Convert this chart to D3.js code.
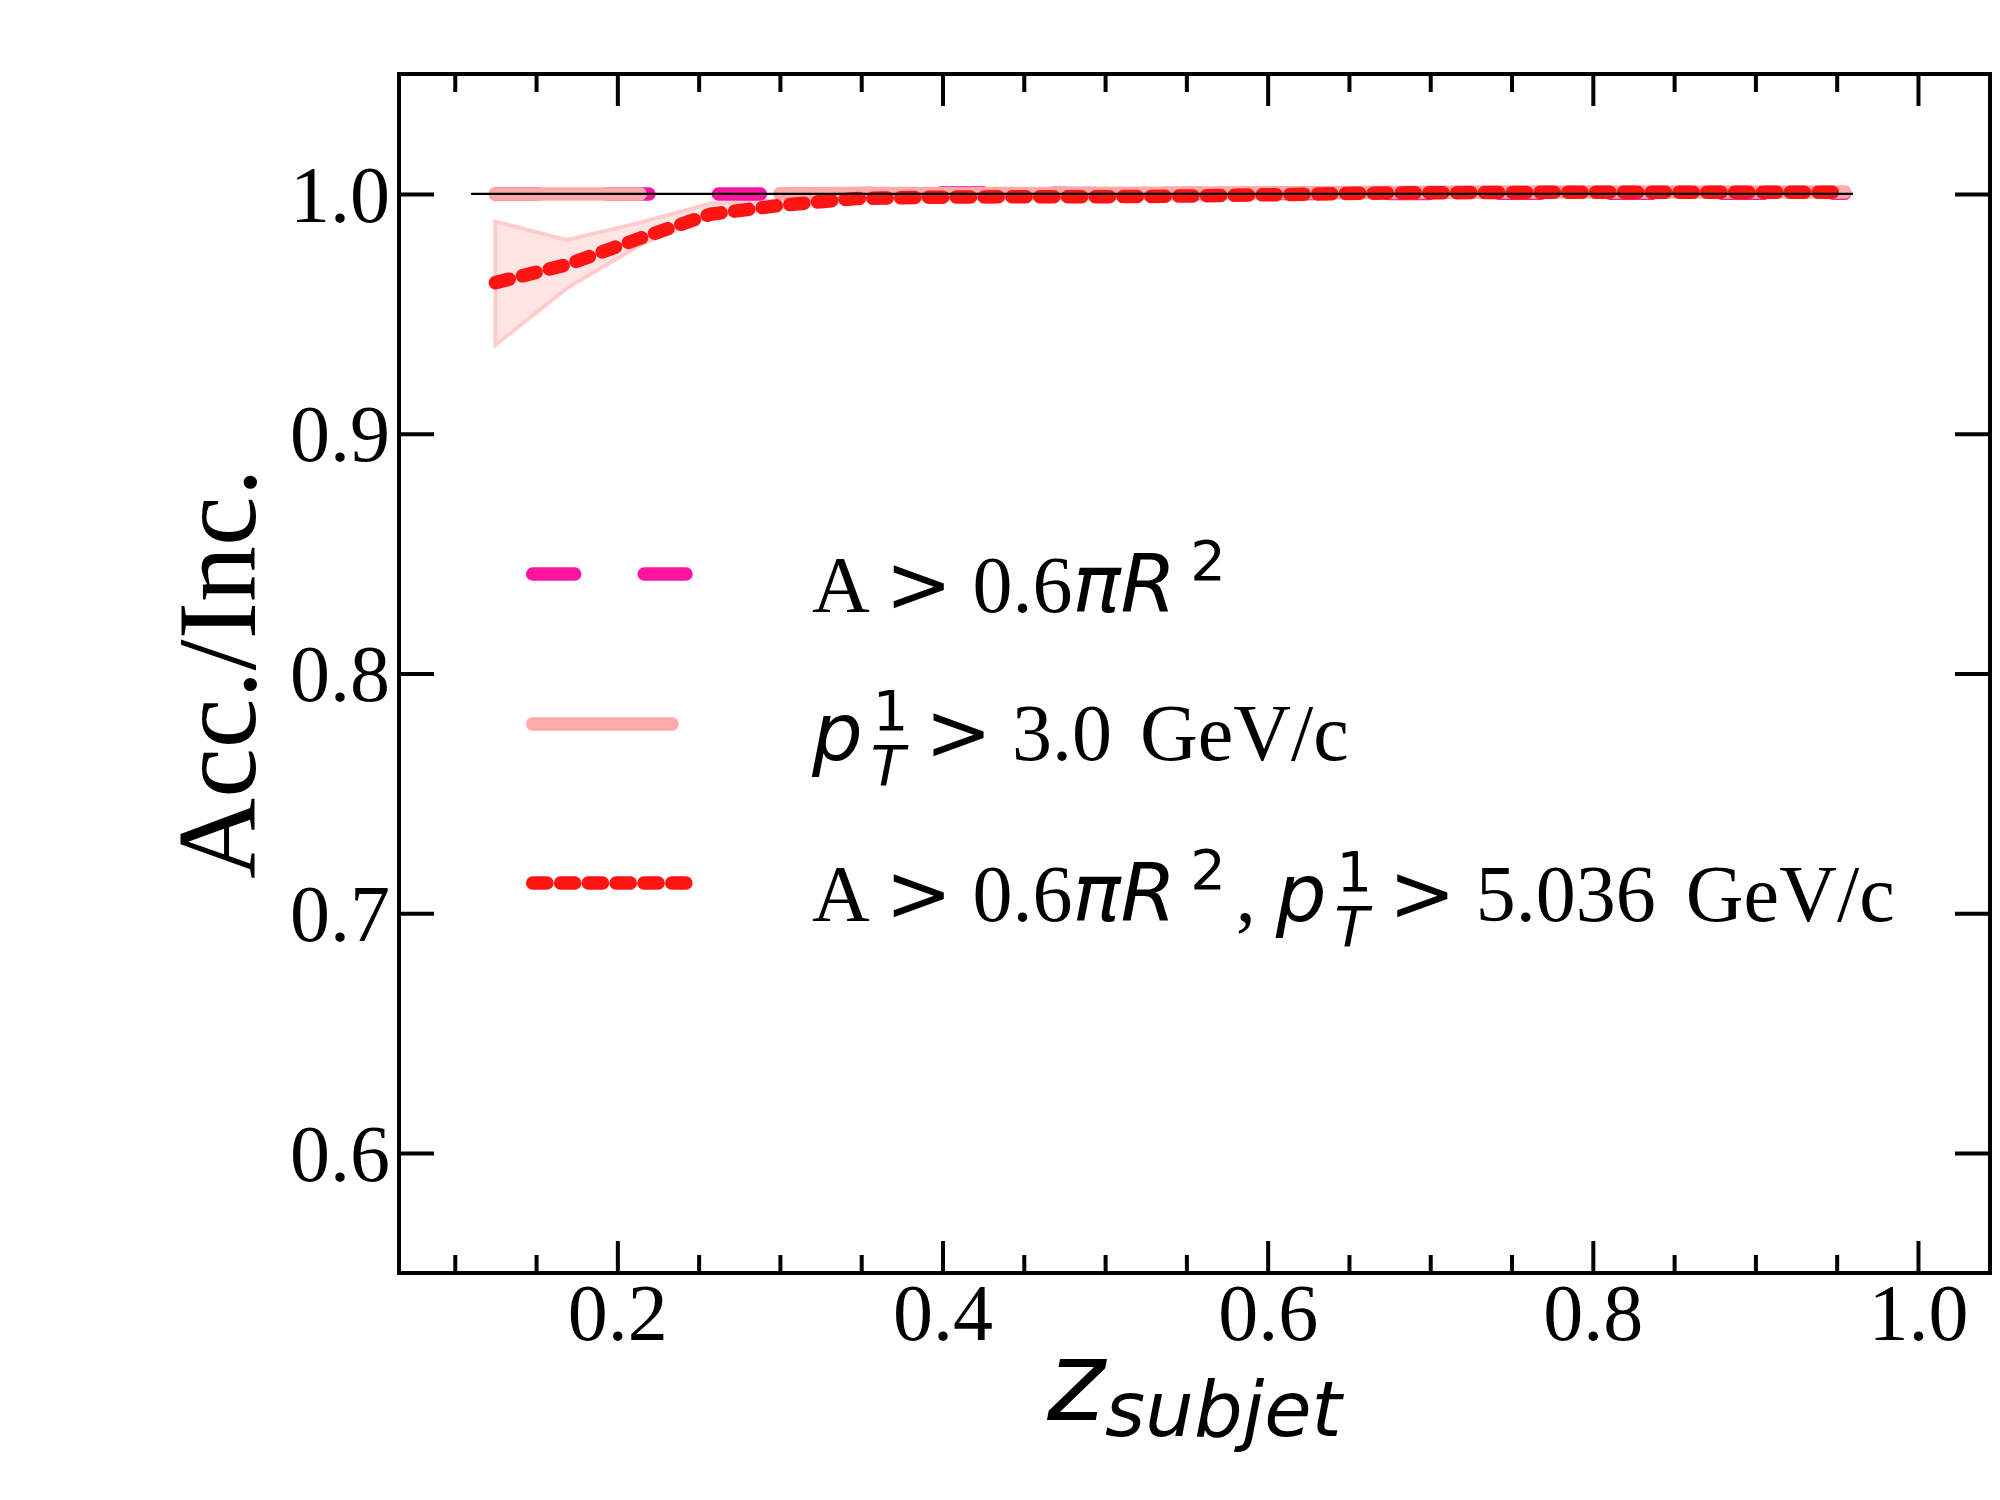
<!DOCTYPE html>
<html>
<head>
<meta charset="utf-8">
<script src="https://cdn.jsdelivr.net/npm/d3@7"></script>
<style>
  body { margin: 0; background: #fff; }
  .tick line { stroke: #000; stroke-width: 4; }
  .tick text { font-family: "Liberation Serif", "Times New Roman", serif; font-size: 80px; fill: #000; }
</style>
</head>
<body>
<script>
"use strict";

// z_subjet bin positions
var zVals = [0.125, 0.169, 0.214, 0.257, 0.30, 0.345, 0.39, 0.435, 0.48, 0.525,
             0.57, 0.615, 0.66, 0.705, 0.75, 0.795, 0.84, 0.885, 0.925, 0.955];

// A > 0.6 pi R^2
var areaCut = [1.0, 1.0, 1.0, 1.0, 1.0, 1.0001, 1.0005, 1.0005, 1.0002, 1.0002,
               1.0002, 1.0002, 1.0002, 1.0002, 1.0003, 1.0003, 1.0003, 1.0003, 1.0003, 1.0003];

// pT lead > 3.0 GeV/c  (null = empty bin)
var ptCut = [1.0, 1.0, 1.0, null, 1.0001, 1.0002, 1.0002, 1.0002, 1.0002, 1.0003,
             1.0004, 1.0005, 1.0006, 1.0007, 1.0008, 1.0008, 1.0008, 1.0008, 1.0008, 1.0008];

// both cuts
var bothCut = [0.963, 0.9705, 0.9815, 0.9915, 0.9952, 0.998, 0.9986, 0.9988, 0.9988, 0.9989,
               0.9993, 0.9998, 1.0003, 1.0005, 1.0006, 1.0007, 1.0007, 1.0007, 1.0007, 1.0007];
var bothLo = [0.937, 0.9607, 0.9787, 0.9905, 0.9942, 0.9973, 0.998, 0.9982, 0.9982, 0.9983,
              0.9988, 0.9993, 0.9998, 1.0, 1.0001, 1.0002, 1.0002, 1.0002, 1.0002, 1.0002];
var bothHi = [0.9884, 0.9808, 0.988, 0.996, 0.9972, 0.9987, 0.9992, 0.9994, 0.9994, 0.9995,
              0.9998, 1.0003, 1.0008, 1.001, 1.0011, 1.0012, 1.0012, 1.0012, 1.0012, 1.0012];

// reference line at unity
var refX = [0.11, 0.96];
var refY = [1.0, 1.0];

var xMajor = [0.2, 0.4, 0.6, 0.8, 1.0];
var xMinor = [0.1, 0.15, 0.25, 0.3, 0.35, 0.45, 0.5, 0.55, 0.65, 0.7, 0.75, 0.85, 0.9, 0.95];
var yMajor = [0.6, 0.7, 0.8, 0.9, 1.0];

var serif = "'Liberation Serif', 'Times New Roman', serif";
var sans = "'DejaVu Sans', sans-serif";

// legend rows, each a list of text pieces
var legendRows = [
  [{t: "A ", f: serif}, {t: ">", f: sans}, {t: " 0.6", f: serif}, {t: "\u03c0R", f: sans, it: 1},
   {t: "2", f: sans, s: 56, dx: 14, dy: -32}],
  [{t: "p", f: sans, it: 1}, {t: "1", f: sans, s: 56, dx: 10, dy: -30},
   {t: "T", f: sans, it: 1, s: 56, dx: -37.6, dy: 55}, {t: " ", f: serif, dy: -25},
   {t: ">", f: sans}, {t: " 3.0", f: serif}, {t: " GeV/c", f: serif, dx: 8}],
  [{t: "A ", f: serif}, {t: ">", f: sans}, {t: " 0.6", f: serif}, {t: "\u03c0R", f: sans, it: 1},
   {t: "2", f: sans, s: 56, dx: 14, dy: -32}, {t: ", ", f: serif, dx: 10, dy: 32},
   {t: "p", f: sans, it: 1}, {t: "1", f: sans, s: 56, dx: 10, dy: -30},
   {t: "T", f: sans, it: 1, s: 56, dx: -37.6, dy: 55}, {t: " ", f: serif, dy: -25},
   {t: ">", f: sans}, {t: " 5.036", f: serif}, {t: " GeV/c", f: serif, dx: 10}]
];

// plot area in page pixels
var pL = 399, pR = 1990, pT = 74, pB = 1273;

var x = d3.scaleLinear().domain([0.0657, 1.0443]).range([pL, pR]);
var y = d3.scaleLinear().domain([0.55, 1.05]).range([pB, pT]);

var svg = d3.select("body").append("svg")
    .attr("width", 2000)
    .attr("height", 1500);

function series(vals) {
  return zVals.map(function(z, i) { return {z: z, v: vals[i]}; });
}

var valueline = d3.line()
    .defined(function(d) { return d.v != null; })
    .x(function(d) { return x(d.z); })
    .y(function(d) { return y(d.v); });

// error band of the combined cut
var bandData = zVals.map(function(z, i) { return {z: z, lo: bothLo[i], hi: bothHi[i]}; });
svg.append("path")
    .datum(bandData)
    .attr("d", d3.area()
        .x(function(d) { return x(d.z); })
        .y0(function(d) { return y(d.lo); })
        .y1(function(d) { return y(d.hi); }))
    .attr("fill", "#ffe4e4")
    .attr("stroke", "#ffcccc")
    .attr("stroke-width", 4);

var styles = {
  area: {color: "#ff14a0", dash: "42,69.5"},
  pt: {color: "#ffaaaa", dash: null},
  both: {color: "#ff1414", dash: "14.2,13.6"}
};

function styled(sel, st) {
  sel.attr("fill", "none")
     .attr("stroke", st.color)
     .attr("stroke-width", 13.5)
     .attr("stroke-linecap", "round")
     .attr("stroke-linejoin", "round");
  if (st.dash) sel.attr("stroke-dasharray", st.dash);
  return sel;
}

styled(svg.append("path").datum(series(areaCut)).attr("d", valueline), styles.area);
styled(svg.append("path").datum(series(ptCut)).attr("d", valueline), styles.pt);
styled(svg.append("path").datum(series(bothCut)).attr("d", valueline), styles.both);

// unity line on top
svg.append("path")
    .datum(refX.map(function(z, i) { return {z: z, v: refY[i]}; }))
    .attr("d", valueline)
    .attr("fill", "none")
    .attr("stroke", "#000")
    .attr("stroke-width", 2.3);

// axes, ticks pointing inward
function noDomain(g) { g.select(".domain").remove(); }

svg.append("g")
    .attr("transform", "translate(0," + pB + ")")
    .call(d3.axisBottom(x).tickValues(xMajor).tickSize(-32).tickPadding(10).tickFormat(d3.format(".1f")))
    .call(noDomain);
svg.append("g")
    .attr("transform", "translate(0," + pB + ")")
    .call(d3.axisBottom(x).tickValues(xMinor).tickSize(-18).tickFormat(""))
    .call(noDomain);
svg.append("g")
    .attr("transform", "translate(0," + pT + ")")
    .call(d3.axisTop(x).tickValues(xMajor).tickSize(-32).tickFormat(""))
    .call(noDomain);
svg.append("g")
    .attr("transform", "translate(0," + pT + ")")
    .call(d3.axisTop(x).tickValues(xMinor).tickSize(-18).tickFormat(""))
    .call(noDomain);
svg.append("g")
    .attr("transform", "translate(" + pL + ",0)")
    .call(d3.axisLeft(y).tickValues(yMajor).tickSize(-35).tickPadding(9).tickFormat(d3.format(".1f")))
    .call(noDomain)
    .selectAll("text").attr("dy", "0.34em");
svg.append("g")
    .attr("transform", "translate(" + pR + ",0)")
    .call(d3.axisRight(y).tickValues(yMajor).tickSize(-35).tickFormat(""))
    .call(noDomain);

// frame
svg.append("rect")
    .attr("x", pL).attr("y", pT)
    .attr("width", pR - pL).attr("height", pB - pT)
    .attr("fill", "none")
    .attr("stroke", "#000")
    .attr("stroke-width", 4);

// axis titles
var xl = svg.append("text")
    .attr("x", (pL + pR) / 2)
    .attr("y", 1420)
    .attr("text-anchor", "middle")
    .style("font-family", sans)
    .style("font-style", "italic");
xl.append("tspan").style("font-size", "110px").text("z");
xl.append("tspan").style("font-size", "77px").attr("dy", 16).text("subjet");

svg.append("text")
    .attr("transform", "translate(255," + ((pT + pB) / 2) + ") rotate(-90)")
    .attr("text-anchor", "middle")
    .style("font-family", serif)
    .style("font-size", "112px")
    .text("Acc./Inc.");

// legend
var legY = [574, 724, 883];
var legBase = [612, 760, 921];
var legKeys = ["area", "pt", "both"];
var legEnd = [686, 672, 686];

legKeys.forEach(function(k, i) {
  styled(svg.append("line")
      .attr("x1", 532.7).attr("x2", legEnd[i])
      .attr("y1", legY[i]).attr("y2", legY[i]), styles[k]);

  var t = svg.append("text")
      .attr("x", 812)
      .attr("y", legBase[i])
      .attr("xml:space", "preserve")
      .style("white-space", "pre")
      .style("font-size", "80px");
  legendRows[i].forEach(function(p) {
    var ts = t.append("tspan")
        .style("font-family", p.f)
        .style("font-size", (p.s || 80) + "px")
        .text(p.t);
    if (p.it) ts.style("font-style", "italic");
    if (p.dx) ts.attr("dx", p.dx);
    if (p.dy) ts.attr("dy", p.dy);
  });
});
</script>
</body>
</html>
